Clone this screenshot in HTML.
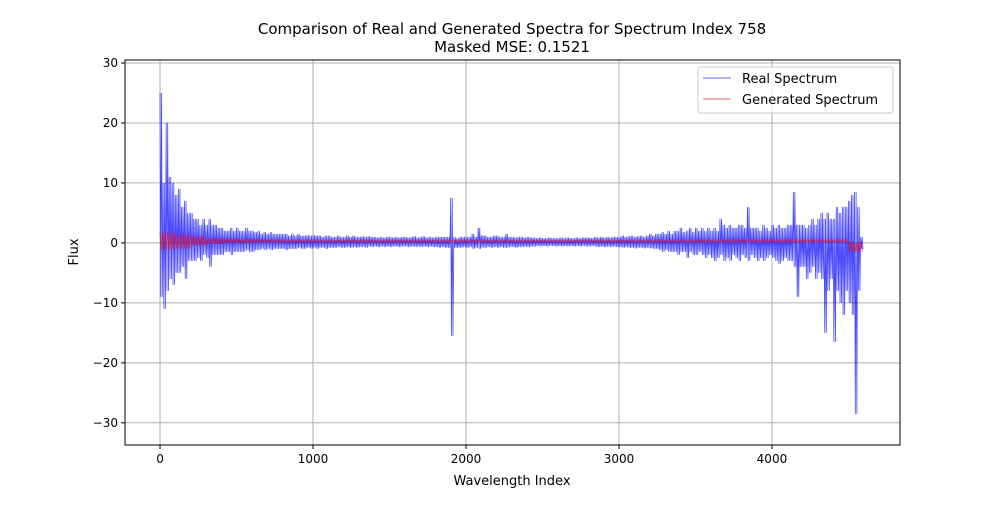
<!DOCTYPE html>
<html><head><meta charset="utf-8"><style>
body{margin:0;background:#fff;}
svg text{font-family:"DejaVu Sans","Liberation Sans",sans-serif;fill:#000;}
</style></head><body>
<svg id="chart" width="1000" height="500" xmlns="http://www.w3.org/2000/svg">
<rect width="1000" height="500" fill="#fff"/>
<text x="512" y="34" font-size="15" text-anchor="middle">Comparison of Real and Generated Spectra for Spectrum Index 758</text>
<text x="512" y="52" font-size="15" text-anchor="middle">Masked MSE: 0.1521</text>
<g id="grid"></g>
<g id="series"></g>
<rect x="125" y="60" width="775" height="385" fill="none" stroke="#000" stroke-width="1"/>
<g id="ticks"></g>
<text x="512" y="485" font-size="13" text-anchor="middle">Wavelength Index</text>
<text x="78" y="252" font-size="13" text-anchor="middle" transform="rotate(-90 78 252)">Flux</text>
<g>
<rect x="698" y="67" width="195" height="46" rx="3" fill="#fff" fill-opacity="0.8" stroke="#ccc"/>
<line x1="703" y1="78" x2="731" y2="78" stroke="#0000ff" stroke-opacity="0.6"/>
<text x="742" y="83" font-size="13">Real Spectrum</text>
<line x1="703" y1="99" x2="731" y2="99" stroke="#ff0000" stroke-opacity="0.6"/>
<text x="742" y="104" font-size="13">Generated Spectrum</text>
</g>
</svg>
<script>
const xTicks=[0,1000,2000,3000,4000];
const yTicks=[-30,-20,-10,0,10,20,30];
const realBin=20;
const realHigh=[25,10,20,11,10,8,9,6,7,5,
5,4,4,3,4,3,4,3,3,2.5,
2.5,2,2,2.5,2,2.5,2,2,2.5,2,
2,1.8,2,1.5,1.8,1.5,1.8,1.5,1.5,1.5,
1.5,1.5,1.2,1.5,1.2,1.5,1.2,1.2,1.3,1.2,
1.3,1.2,1.2,1,1.2,1.2,1,1,1.2,1,
1,1.2,1,1.2,1,1,1.1,1,1.1,1,
1,0.9,1,0.9,1,1,0.9,1,0.9,1,
1,0.9,1,1.1,0.9,1,1.1,0.9,1,0.9,
1,1,1,1,1,7.5,1,0.8,1,1,
1,1,1.5,1,2.5,1.2,1.2,1,1,1.2,
1.2,1,1,1.5,1,1,0.9,1,1,0.9,
1,0.9,0.9,0.8,0.9,0.8,0.8,0.9,0.8,0.8,
0.8,0.9,0.8,0.9,0.8,0.8,0.9,0.8,0.9,0.9,
0.9,0.8,1,0.9,1,0.9,1,0.9,1,1,
1,1.2,1,1.1,1.2,1,1.1,1.2,1,1.2,
1.5,1.2,1.5,1.5,1.8,1.5,2,1.5,2,2,
2.5,1.8,2,2.5,1.8,2.5,2,2.5,2,2.5,
2,2.5,2,4,3,2.5,3,2.5,2.5,3,
3,2.5,6,2.5,2.5,2.5,2,3,2.5,2,
3,2.5,3,2.5,2.5,3,3,8.5,3,3,
3,2.5,3,4,3,4,5,4,5,4,
4,6,5,6,6,7,8,8.5,6,1];
const realLow=[-9,-11,-8,-6,-7,-5,-5,-4,-6,-3,
-3,-3,-2.5,-3,-2,-2.5,-4,-2,-2,-2,
-2,-1.5,-1.5,-2,-1.5,-1.5,-1.5,-1.5,-1.2,-1.5,
-1.5,-1.2,-1.2,-1,-1.2,-1,-1.2,-1,-1,-1,
-1,-1.2,-1,-1,-1,-0.8,-1,-1,-0.8,-1,
-0.8,-1,-0.8,-0.8,-1,-0.8,-0.8,-0.8,-0.7,-0.8,
-0.8,-0.7,-0.8,-0.7,-0.8,-0.7,-0.7,-0.8,-0.6,-0.7,
-0.6,-0.7,-0.6,-0.7,-0.6,-0.7,-0.6,-0.6,-0.7,-0.6,
-0.6,-0.7,-0.6,-0.7,-0.6,-0.7,-0.6,-0.7,-0.6,-0.7,
-0.7,-0.8,-0.7,-0.8,-0.8,-15.5,-0.8,-0.8,-0.8,-0.7,
-0.8,-0.7,-1,-0.8,-1,-0.8,-0.8,-0.7,-0.8,-0.7,
-0.8,-0.7,-0.8,-0.8,-0.7,-0.7,-0.8,-0.7,-0.7,-0.6,
-0.7,-0.6,-0.6,-0.5,-0.6,-0.5,-0.6,-0.5,-0.5,-0.6,
-0.5,-0.6,-0.5,-0.6,-0.5,-0.6,-0.5,-0.6,-0.5,-0.6,
-0.6,-0.5,-0.6,-0.7,-0.6,-0.7,-0.6,-0.7,-0.6,-0.7,
-0.7,-0.8,-0.7,-0.8,-0.8,-0.9,-0.8,-0.8,-0.9,-0.8,
-0.9,-1,-1,-1.2,-1.5,-1.2,-1.5,-1.5,-1.5,-2,
-1.5,-1.5,-2.5,-1.5,-2,-2,-1.5,-2,-2.5,-2,
-2.5,-3,-2.5,-2,-3,-2.5,-3,-2,-2.5,-3,
-2,-2.5,-3,-2,-2.5,-3,-2.5,-3,-2.5,-2,
-2.5,-3,-3.5,-3,-2.5,-3,-3,-4,-9,-4,
-4,-6,-5,-4,-6,-5,-6,-15,-8,-6,
-16.5,-8,-10,-12,-8,-10,-12,-28.5,-8,-1];
const genBin=100;
const genHigh=[1.8,1.5,1.2,0.8,0.7,0.6,0.6,0.55,0.5,0.5,
0.5,0.5,0.5,0.5,0.45,0.45,0.45,0.45,0.45,0.5,
0.5,0.45,0.45,0.45,0.45,0.45,0.45,0.45,0.45,0.45,
0.5,0.5,0.5,0.5,0.5,0.55,0.55,0.6,0.6,0.6,
0.6,0.6,0.6,0.6,0.6,0.2];
const genLow=[-1.2,-1,-0.5,-0.2,0,0,0.1,0.1,0.1,0.1,
0.1,0.1,0.1,0.1,0.1,0.1,0.1,0.1,0.1,0.1,
0.1,0.1,0.1,0.1,0.1,0.1,0.1,0.1,0.1,0.1,
0.1,0.1,0.1,0.1,0.1,0.1,0.1,0.1,0.1,0.1,
0.1,0.1,0.1,0.1,0.1,-1.5];
const NS='http://www.w3.org/2000/svg';
const X0=125,X1=900,Y0=60,Y1=445,xMin=-229,xMax=4837,yMin=-33.7,yMax=30.5;
function sx(v){return X0+(v-xMin)/(xMax-xMin)*(X1-X0);}
function sy(v){return Y1-(v-yMin)/(yMax-yMin)*(Y1-Y0);}
function mk(tag,attrs,parent){const e=document.createElementNS(NS,tag);for(const k in attrs)e.setAttribute(k,attrs[k]);parent.appendChild(e);return e;}
const grid=document.getElementById('grid'),ticks=document.getElementById('ticks'),series=document.getElementById('series');
xTicks.forEach(t=>{const x=sx(t);
const g=mk('line',{x1:x,x2:x,y1:Y0,y2:Y1,stroke:'#b0b0b0','stroke-width':1},grid);


const tk=mk('line',{x1:x,x2:x,y1:Y1,y2:Y1+4,stroke:'#000'},ticks);


const tx=mk('text',{x:x,y:Y1+18,'font-size':12,'text-anchor':'middle'},ticks);tx.textContent=t;

});
yTicks.forEach(t=>{const y=sy(t);
const g=mk('line',{x1:X0,x2:X1,y1:y,y2:y,stroke:'#b0b0b0','stroke-width':1},grid);


const tk=mk('line',{x1:X0-4,x2:X0,y1:y,y2:y,stroke:'#000'},ticks);


const tx=mk('text',{x:X0-7,y:y+4,'font-size':12,'text-anchor':'end'},ticks);tx.textContent=(t<0?'\u2212'+(-t):t);

});
function zig(high,low,bin,sub){const pts=[];
for(let i=0;i<high.length;i++){for(let k=0;k<sub;k++){
const x0=i*bin+k*bin/sub;
pts.push(sx(x0).toFixed(2)+','+sy(high[i]).toFixed(2));
pts.push(sx(x0+bin/sub/2).toFixed(2)+','+sy(low[i]).toFixed(2));}}
return pts.join(' ');}
const real=mk('polyline',{points:zig(realHigh,realLow,realBin,2),fill:'none',stroke:'#0000ff','stroke-opacity':0.7,'stroke-width':0.8},series);


const gen=mk('polyline',{points:zig(genHigh,genLow,genBin,6),fill:'none',stroke:'#ff0000','stroke-opacity':0.6,'stroke-width':0.9},series);


</script>
</body></html>
